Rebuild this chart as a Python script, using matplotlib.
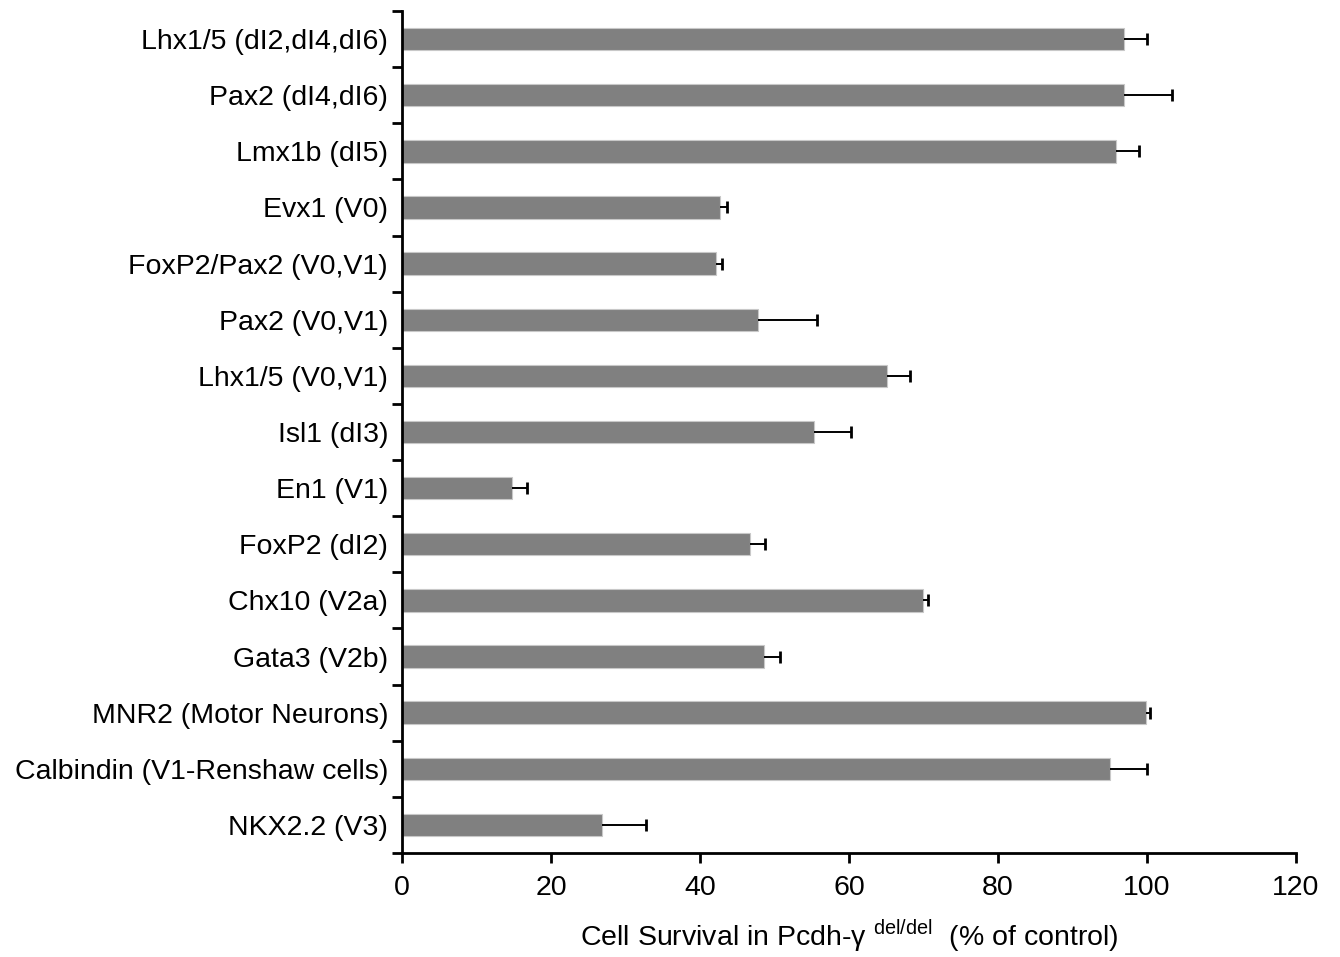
import matplotlib.pyplot as plt
import numpy as np

plt.rcParams['font.family'] = ['Liberation Sans', 'DejaVu Sans']

labels = ["Lhx1/5 (dI2,dI4,dI6)", "Pax2 (dI4,dI6)", "Lmx1b (dI5)", "Evx1 (V0)",
          "FoxP2/Pax2 (V0,V1)", "Pax2 (V0,V1)", "Lhx1/5 (V0,V1)", "Isl1 (dI3)",
          "En1 (V1)", "FoxP2 (dI2)", "Chx10 (V2a)", "Gata3 (V2b)",
          "MNR2 (Motor Neurons)", "Calbindin (V1-Renshaw cells)", "NKX2.2 (V3)"]
survival = [96.9, 96.9, 95.8, 42.7, 42.1, 47.8, 65.1, 55.3, 14.8, 46.7, 69.9, 48.6, 99.9, 95.0, 26.8]
sem = [3.1, 6.5, 3.1, 0.9, 0.8, 7.9, 3.1, 5.0, 2.0, 2.0, 0.7, 2.1, 0.5, 5.0, 6.0]

fig = plt.figure(figsize=(13.4, 9.57), dpi=100)
ax = fig.add_axes([0.3, 0.1087, 0.667, 0.8798])

y = np.arange(len(labels))
surv = np.array(survival)
top = surv + np.array(sem)
ax.barh(y, surv, height=0.4, color='#808080', edgecolor='#c8c8c8', linewidth=0.8, zorder=2)
# one-sided error bars, cap only at the outer end
ax.hlines(y, surv, top, colors='black', linewidth=1.4, zorder=3)
ax.plot(top, y, ls='none', marker='|', ms=9, mew=2, color='black', zorder=3)

ax.set_ylim(len(labels) - 0.5, -0.5)
ax.set_xlim(0, 120)
ax.set_xticks(np.arange(0, 121, 20))
ax.set_yticks(np.arange(-0.5, len(labels), 1.0))
ax.set_yticklabels([])
ax.set_yticks(y, minor=True)
ax.set_yticklabels(labels, minor=True, fontsize=20.5)
ax.tick_params(axis='y', which='minor', length=0, pad=10)
ax.tick_params(axis='y', which='major', direction='out', length=7, width=2)
ax.tick_params(axis='x', direction='out', length=7, width=2, labelsize=20.5, pad=9)

for s in ['top', 'right']:
    ax.spines[s].set_visible(False)
for s in ['left', 'bottom']:
    ax.spines[s].set_linewidth(2)

ax.set_xlabel("Cell Survival in Pcdh-γ $^{\\mathregular{del/del}}$  (% of control)",
              fontsize=20.5, labelpad=12)

fig.savefig('out.png', dpi=100)
